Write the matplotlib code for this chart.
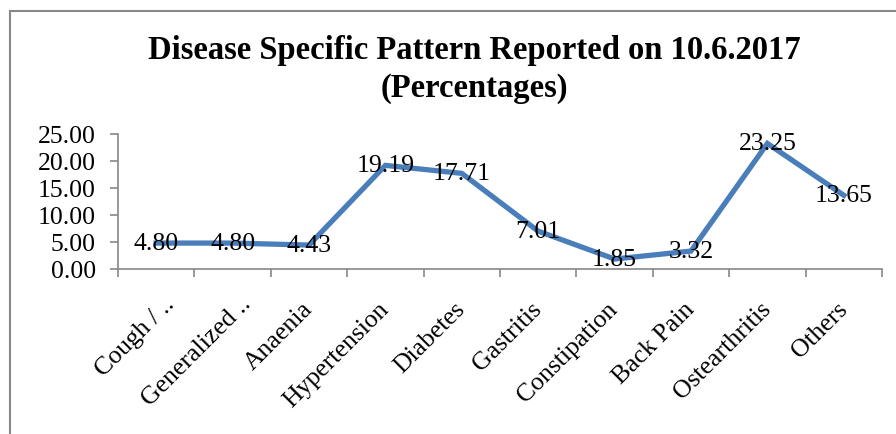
import matplotlib
matplotlib.use("Agg")
import matplotlib.pyplot as plt
from matplotlib.patches import Rectangle
from matplotlib.transforms import ScaledTranslation

plt.rcParams['font.family'] = ['Liberation Serif', 'DejaVu Serif']

categories = ["Cough / ..", "Generalized ..", "Anaenia", "Hypertension", "Diabetes",
              "Gastritis", "Constipation", "Back Pain", "Ostearthritis", "Others"]
values = [4.80, 4.80, 4.43, 19.19, 17.71, 7.01, 1.85, 3.32, 23.25, 13.65]
yticks = [0, 5, 10, 15, 20, 25]

fig = plt.figure(figsize=(8.96, 4.35), dpi=100)
ax = fig.add_axes([118/896, 1-270/435, (882-118)/896, 135/435])

x = [i + 0.5 for i in range(len(values))]
ax.plot(x, values, color='#4A7EBB', lw=3.8, solid_joinstyle='miter')
for xi, v in zip(x, values):
    ax.text(xi, v, "%.2f" % v, ha='center', va='center', fontsize=18.5)

ax.set_xlim(0, len(values))
ax.set_ylim(0, 25)
ax.set_yticks(yticks)
ax.set_yticklabels(["%.2f" % t for t in yticks], fontsize=18.5)
ax.set_xticks(range(len(values) + 1))
ax.set_xticklabels([])
ax.set_xticks(x, minor=True)
labels = ax.set_xticklabels(categories, minor=True, rotation=45, ha='right', va='center',
                            rotation_mode='anchor', fontsize=18.5)
ax.tick_params(axis='x', which='minor', length=0, pad=26)
ax.tick_params(axis='both', which='major', length=6, width=1.2, color='#888888')
ax.tick_params(axis='y', pad=10)

# truncated labels sit a bit to the right in the original
for lab in labels:
    if lab.get_text().endswith(".."):
        lab.set_transform(lab.get_transform() + ScaledTranslation(0.15, 0.05, fig.dpi_scale_trans))

for s in ['top', 'right']:
    ax.spines[s].set_visible(False)
for s in ['left', 'bottom']:
    ax.spines[s].set_color('#888888')
    ax.spines[s].set_linewidth(1.2)

fig.text(474/896, 1-50/435, "Disease Specific Pattern Reported on 10.6.2017",
         ha='center', va='center', fontsize=23.5, fontweight='bold')
fig.text(474/896, 1-88/435, "(Percentages)",
         ha='center', va='center', fontsize=23.5, fontweight='bold')

fig.patches.append(Rectangle((9.5/896, -0.1), 2, 1-12/435 + 0.1, transform=fig.transFigure,
                             fill=False, edgecolor='#888888', lw=1.5))

fig.savefig("out.png", dpi=100)
